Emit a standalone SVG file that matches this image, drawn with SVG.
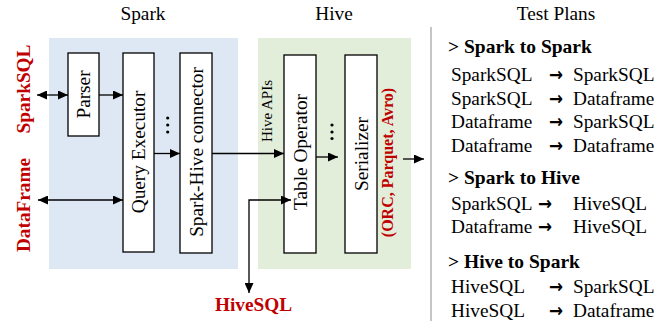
<svg xmlns="http://www.w3.org/2000/svg" width="668" height="321" viewBox="0 0 668 321" font-family="'Liberation Serif', 'Times New Roman', serif">
<style>
.t{font-family:"Liberation Serif","Times New Roman",serif;fill:#000}
.title{font-size:19.3px;text-anchor:middle}
.lbl{font-size:19.3px;text-anchor:middle}
.red{font-family:"Liberation Serif","Times New Roman",serif;font-weight:bold;fill:#C00000;text-anchor:middle}
.box{fill:#fff;stroke:#000;stroke-width:1.3}
.row{font-size:19.3px}
.hd{font-size:19.5px;font-weight:bold}
.arr{font-family:"DejaVu Sans",sans-serif;font-size:19px;font-weight:bold;text-anchor:middle;fill:#000}
.c{fill:none;stroke:#000;stroke-width:1.3}
</style>
<defs>
<marker id="ah" viewBox="0 0 10 9" refX="10" refY="4.5" markerWidth="10" markerHeight="9" markerUnits="userSpaceOnUse" orient="auto-start-reverse">
<path d="M0,0 L10,4.5 L0,9 z" fill="#000"/>
</marker>
</defs>
<g id="titles">
<text class="t title" x="143" y="20">Spark</text>
<text class="t title" x="334" y="20">Hive</text>
<text class="t title" x="556" y="20">Test Plans</text>
</g>
<g id="spark-area"><rect x="49" y="38" width="189" height="231" fill="#DEE8F5"/></g>
<g id="hive-area"><rect x="258" y="38" width="153" height="231" fill="#E2EEDA"/></g>
<g id="parser">
<rect class="box" x="68" y="53" width="31" height="83"/>
<text class="t lbl" transform="translate(90,94.5) rotate(-90)">Parser</text>
</g>
<g id="query-executor">
<rect class="box" x="123" y="53" width="31" height="199"/>
<text class="t lbl" transform="translate(145,152) rotate(-90)">Query Executor</text>
</g>
<g id="spark-hive-connector">
<rect class="box" x="180" y="53" width="32" height="200"/>
<text class="t lbl" transform="translate(202.5,152) rotate(-90)">Spark-Hive connector</text>
</g>
<g id="dots-spark">
<circle cx="167.7" cy="118" r="1.6"/><circle cx="167.7" cy="125" r="1.6"/><circle cx="167.7" cy="132" r="1.6"/>
</g>
<g id="table-operator">
<rect class="box" x="284" y="55" width="32" height="198"/>
<text class="t lbl" transform="translate(306.5,152) rotate(-90)">Table Operator</text>
</g>
<g id="dots-hive">
<circle cx="332" cy="125" r="1.6"/><circle cx="332" cy="132" r="1.6"/><circle cx="332" cy="138.5" r="1.6"/>
</g>
<g id="serializer">
<rect class="box" x="345" y="55" width="32" height="198"/>
<text class="t lbl" transform="translate(367.5,154) rotate(-90)">Serializer</text>
</g>
<g id="hive-apis">
<text class="t" font-size="15" text-anchor="middle" transform="translate(272,111) rotate(-90)">Hive APIs</text>
</g>
<g id="formats">
<text class="red" font-size="16" transform="translate(393,162.5) rotate(-90)">(ORC, Parquet, Avro)</text>
</g>
<g id="sparksql">
<text class="red" font-size="19.3" transform="translate(30,89) rotate(-90)">SparkSQL</text>
</g>
<g id="dataframe">
<text class="red" font-size="19.3" transform="translate(30,205) rotate(-90)">DataFrame</text>
</g>
<g id="hivesql">
<text class="red" font-size="19.3" x="253.5" y="311">HiveSQL</text>
</g>
<g id="connectors">
<path class="c" d="M37,95 H68" marker-start="url(#ah)" marker-end="url(#ah)"/>
<path class="c" d="M99,95 H123" marker-end="url(#ah)"/>
<path class="c" d="M38,200 H123" marker-start="url(#ah)" marker-end="url(#ah)"/>
<path class="c" d="M154,153.5 H180" marker-end="url(#ah)"/>
<path class="c" d="M212,153.5 H284" marker-end="url(#ah)"/>
<path class="c" d="M316,157 H338" marker-end="url(#ah)"/>
<path class="c" d="M403,159 H424" marker-end="url(#ah)"/>
<path class="c" d="M249,293 V200 H291" marker-start="url(#ah)" marker-end="url(#ah)"/>
</g>
<g id="separator"><line x1="431" y1="27" x2="431" y2="321" stroke="#A6A6A6" stroke-width="1.3"/></g>
<g id="test-plans">
<text class="t hd" x="448" y="53">&gt; Spark to Spark</text>
<text class="t row" x="451" y="81">SparkSQL</text><text class="arr" x="556" y="81" textLength="14" lengthAdjust="spacingAndGlyphs">→</text><text class="t row" x="573" y="81">SparkSQL</text>
<text class="t row" x="451" y="105">SparkSQL</text><text class="arr" x="556" y="105" textLength="14" lengthAdjust="spacingAndGlyphs">→</text><text class="t row" x="573" y="105">Dataframe</text>
<text class="t row" x="451" y="128">Dataframe</text><text class="arr" x="556" y="128" textLength="14" lengthAdjust="spacingAndGlyphs">→</text><text class="t row" x="573" y="128">SparkSQL</text>
<text class="t row" x="451" y="152">Dataframe</text><text class="arr" x="556" y="152" textLength="14" lengthAdjust="spacingAndGlyphs">→</text><text class="t row" x="573" y="152">Dataframe</text>
<text class="t hd" x="448" y="184">&gt; Spark to Hive</text>
<text class="t row" x="451" y="210">SparkSQL</text><text class="arr" x="545" y="210" textLength="14" lengthAdjust="spacingAndGlyphs">→</text><text class="t row" x="573" y="210">HiveSQL</text>
<text class="t row" x="451" y="233">Dataframe</text><text class="arr" x="545" y="233" textLength="14" lengthAdjust="spacingAndGlyphs">→</text><text class="t row" x="573" y="233">HiveSQL</text>
<text class="t hd" x="448" y="268">&gt; Hive to Spark</text>
<text class="t row" x="451" y="293">HiveSQL</text><text class="arr" x="556" y="293" textLength="14" lengthAdjust="spacingAndGlyphs">→</text><text class="t row" x="573" y="293">SparkSQL</text>
<text class="t row" x="451" y="316.5">HiveSQL</text><text class="arr" x="556" y="316.5" textLength="14" lengthAdjust="spacingAndGlyphs">→</text><text class="t row" x="573" y="316.5">Dataframe</text>
</g>
</svg>
